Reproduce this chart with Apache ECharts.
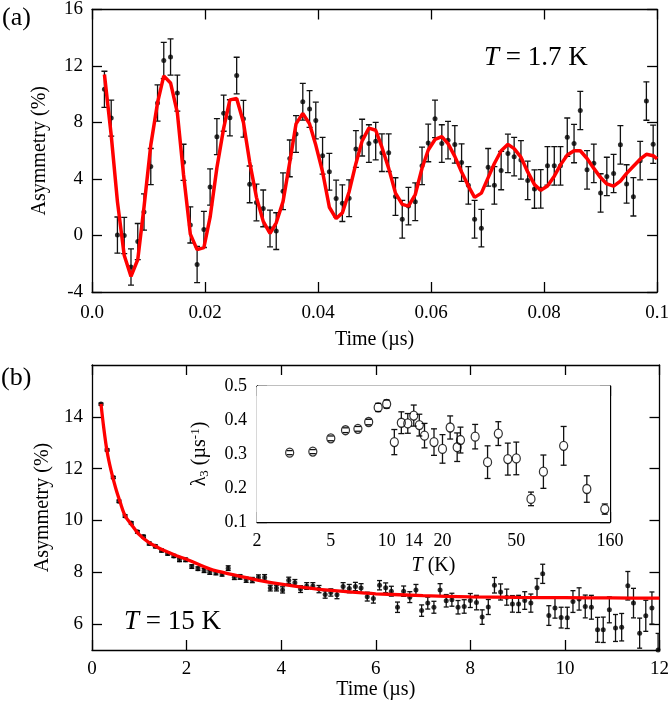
<!DOCTYPE html>
<html>
<head>
<meta charset="utf-8">
<script src="https://cdn.jsdelivr.net/npm/echarts@6/dist/echarts.min.js"></script>
<style>
  html, body { margin: 0; padding: 0; background: #fff; }
  #main { width: 672px; height: 704px; }
</style>
</head>
<body>
<div id="main"></div>
<script>
// (a) T = 1.7 K, early times
const timeA = [0.0022, 0.0034, 0.0045, 0.0057, 0.0069, 0.0081, 0.0092, 0.0104, 0.0116, 0.0127,
  0.0139, 0.0151, 0.0162, 0.0174, 0.0186, 0.0198, 0.0209, 0.0221, 0.0233, 0.0244,
  0.0256, 0.0268, 0.0279, 0.0291, 0.0303, 0.0315, 0.0326, 0.0338, 0.0350, 0.0361,
  0.0373, 0.0385, 0.0396, 0.0408, 0.0420, 0.0432, 0.0443, 0.0455, 0.0467, 0.0478,
  0.0490, 0.0502, 0.0513, 0.0525, 0.0537, 0.0549, 0.0560, 0.0572, 0.0584, 0.0595,
  0.0607, 0.0619, 0.0630, 0.0642, 0.0654, 0.0666, 0.0677, 0.0689, 0.0701, 0.0712,
  0.0724, 0.0736, 0.0747, 0.0759, 0.0771, 0.0783, 0.0794, 0.0806, 0.0818, 0.0829,
  0.0841, 0.0853, 0.0864, 0.0876, 0.0888, 0.0900, 0.0911, 0.0923, 0.0935, 0.0946,
  0.0958, 0.0970, 0.0981, 0.0993];
const asymA = [10.35, 8.31, 0.03, 0.0, -2.23, -0.43, 1.66, 4.88, 9.38, 12.39,
  12.64, 10.08, 5.18, 0.75, -2.06, 0.43, 3.43, 7.0, 8.66, 8.33,
  11.32, 8.26, 3.62, 2.34, 1.92, 0.5, 0.31, 3.13, 5.46, 7.18,
  9.47, 8.96, 8.14, 5.65, 4.51, 2.62, 2.29, 2.64, 6.13, 6.93,
  6.51, 6.68, 5.86, 5.86, 2.76, 1.15, 2.08, 2.39, 4.93, 6.55,
  8.26, 6.51, 6.75, 6.45, 5.16, 3.55, 1.15, 0.52, 4.83, 3.55,
  4.6, 5.81, 5.58, 5.35, 3.9, 3.29, 3.3, 4.93, 4.93, 4.93,
  6.96, 6.51, 8.85, 4.65, 5.11, 3.01, 4.18, 4.39, 6.42, 3.65,
  2.74, 5.3, 9.52, 6.46];
const errA = [1.28, 1.28, 1.28, 1.28, 1.28, 1.28, 1.28, 1.28, 1.28, 1.28,
  1.28, 1.28, 1.28, 1.28, 1.28, 1.28, 1.28, 1.28, 1.28, 1.28,
  1.3, 1.3, 1.3, 1.3, 1.3, 1.3, 1.3, 1.3, 1.3, 1.3,
  1.3, 1.3, 1.3, 1.3, 1.3, 1.3, 1.3, 1.3, 1.3, 1.3,
  1.33, 1.33, 1.33, 1.33, 1.33, 1.33, 1.33, 1.33, 1.33, 1.33,
  1.33, 1.33, 1.33, 1.33, 1.33, 1.33, 1.33, 1.33, 1.33, 1.33,
  1.36, 1.36, 1.36, 1.36, 1.36, 1.36, 1.36, 1.36, 1.36, 1.36,
  1.36, 1.36, 1.36, 1.36, 1.36, 1.36, 1.36, 1.36, 1.36, 1.36,
  1.36, 1.36, 1.36, 1.36];
const fitTimeA = timeA.concat([0.1]);
const fitA = [11.4, 7.1, 2.4, -1.4, -2.9, -1.7, 2.0, 6.4, 9.4, 11.3,
  10.8, 8.7, 4.3, 0.1, -1.0, -0.85, 1.3, 4.8, 7.6, 9.6,
  9.7, 8.0, 5.2, 2.7, 1.0, 0.15, 0.9, 2.4, 5.2, 7.9,
  8.65, 7.9, 6.4, 4.5, 2.0, 1.2, 1.6, 3.1, 5.1, 6.7,
  7.6, 7.45, 6.25, 4.75, 3.0, 2.2, 2.08, 2.9, 4.76, 6.05,
  6.8, 7.0, 6.5, 5.6, 4.5, 3.5, 2.7, 3.0, 4.1, 5.1,
  6.0, 6.45, 6.15, 5.55, 4.5, 3.6, 3.2, 3.5, 4.2, 5.0,
  5.7, 6.0, 6.0, 5.45, 4.75, 4.1, 3.65, 3.5, 3.85, 4.4,
  4.9, 5.4, 5.75, 5.65, 5.42];
const xLabelsA = ['0.0', '0.02', '0.04', '0.06', '0.08', '0.1'];

// (b) T = 15 K, long times
const timeB = [0.19, 0.32, 0.45, 0.57, 0.70, 0.83, 0.96, 1.09, 1.21, 1.34,
  1.47, 1.60, 1.73, 1.85, 1.98, 2.11, 2.24, 2.37, 2.49, 2.62,
  2.75, 2.88, 3.01, 3.13, 3.26, 3.39, 3.52, 3.65, 3.77, 3.90,
  4.03, 4.16, 4.29, 4.41, 4.54, 4.67, 4.80, 4.93, 5.05, 5.18,
  5.31, 5.44, 5.57, 5.69, 5.82, 5.95, 6.08, 6.21, 6.33, 6.46,
  6.59, 6.72, 6.85, 6.97, 7.10, 7.23, 7.36, 7.49, 7.61, 7.74,
  7.87, 8.00, 8.13, 8.25, 8.38, 8.51, 8.64, 8.77, 8.89, 9.02,
  9.15, 9.28, 9.41, 9.53, 9.66, 9.79, 9.92, 10.05, 10.17, 10.30,
  10.43, 10.56, 10.69, 10.81, 10.94, 11.07, 11.20, 11.33, 11.45, 11.58,
  11.71, 11.84, 11.97];
const asymB = [14.49, 12.72, 11.66, 10.74, 10.17, 9.9, 9.56, 9.38, 9.11, 9.0,
  8.84, 8.72, 8.63, 8.48, 8.48, 8.22, 8.14, 8.07, 8.0, 7.98,
  7.93, 8.16, 7.81, 7.82, 7.71, 7.7, 7.8, 7.8, 7.39, 7.39,
  7.32, 7.69, 7.6, 7.35, 7.47, 7.47, 7.35, 7.14, 7.22, 7.13,
  7.45, 7.37, 7.45, 7.39, 7.06, 6.99, 7.5, 7.4, 7.27, 6.65,
  7.27, 7.04, 7.32, 6.52, 6.81, 6.65, 7.32, 6.9, 6.94, 6.65,
  6.68, 6.91, 6.83, 6.27, 6.66, 7.5, 7.24, 7.04, 6.78, 6.78,
  6.91, 6.81, 7.4, 7.94, 6.33, 6.62, 6.25, 6.24, 6.87, 6.97,
  6.68, 6.65, 5.78, 5.78, 6.55, 5.85, 5.88, 7.48, 6.81, 5.65,
  6.32, 6.62, 5.0];
const errB = [0.04, 0.04, 0.04, 0.05, 0.05, 0.05, 0.05, 0.05, 0.06, 0.06,
  0.06, 0.06, 0.06, 0.07, 0.07, 0.07, 0.07, 0.08, 0.08, 0.08,
  0.08, 0.09, 0.09, 0.09, 0.1, 0.1, 0.1, 0.11, 0.11, 0.11,
  0.12, 0.12, 0.12, 0.13, 0.13, 0.13, 0.14, 0.14, 0.14, 0.15,
  0.15, 0.16, 0.16, 0.17, 0.17, 0.18, 0.18, 0.19, 0.19, 0.2,
  0.2, 0.21, 0.21, 0.22, 0.23, 0.23, 0.24, 0.24, 0.25, 0.26,
  0.26, 0.27, 0.28, 0.28, 0.29, 0.3, 0.31, 0.31, 0.32, 0.33,
  0.34, 0.35, 0.36, 0.37, 0.38, 0.39, 0.4, 0.41, 0.42, 0.43,
  0.44, 0.46, 0.48, 0.49, 0.5, 0.52, 0.53, 0.55, 0.57, 0.58,
  0.6, 0.62, 0.64];
const fitTimeB = [0.19, 0.25, 0.32, 0.4, 0.5, 0.6, 0.7, 0.85, 1.0, 1.2,
  1.4, 1.6, 1.8, 2.0, 2.5, 3.0, 3.5, 4.0, 4.5, 5.0,
  5.5, 6.0, 7.0, 8.0, 9.0, 10.0, 11.0, 12.0];
const fitB = [14.5, 13.55, 12.65, 11.95, 11.25, 10.68, 10.18, 9.8, 9.45, 9.15,
  8.95, 8.78, 8.63, 8.5, 8.12, 7.9, 7.7, 7.54, 7.41, 7.31,
  7.23, 7.17, 7.1, 7.05, 7.03, 7.02, 7.01, 7.0];
const yTicksB = [6, 8, 10, 12, 14];

// inset: lambda_3 vs T
const tempI = [3, 4, 5, 6, 7, 8, 9, 10, 11, 12, 13, 14, 15, 16, 18, 20, 22, 24, 25,
  30, 35, 40, 45, 50, 60, 70, 90, 120, 150];
const lamI = [0.304, 0.307, 0.346, 0.370, 0.374, 0.394, 0.437, 0.447, 0.335, 0.392,
  0.390, 0.413, 0.385, 0.354, 0.335, 0.315, 0.378, 0.320, 0.341, 0.351,
  0.276, 0.360, 0.285, 0.287, 0.168, 0.248, 0.324, 0.197, 0.138];
const errI = [0.006, 0.006, 0.007, 0.007, 0.007, 0.008, 0.012, 0.012, 0.037, 0.032,
  0.029, 0.031, 0.032, 0.036, 0.039, 0.042, 0.034, 0.042, 0.038, 0.036,
  0.048, 0.035, 0.047, 0.048, 0.02, 0.049, 0.057, 0.039, 0.015];
const xTicksI = [2, 5, 10, 14, 20, 50, 160];

const serif = '"Liberation Serif", "Times New Roman", serif';
const ink = '#000';
const red = '#ff0000';

const chart = echarts.init(document.getElementById('main'), null, { renderer: 'canvas' });

// vertical bar with caps; gap leaves the inside of an open marker empty
function errorBars(capHalf, gap) {
  return function (params, api) {
    const mid = api.coord([api.value(0), api.value(3)]);
    const hi = api.coord([api.value(0), api.value(2)]);
    const lo = api.coord([api.value(0), api.value(1)]);
    const style = { stroke: '#111', lineWidth: 1.3, fill: null };
    const kids = [
      { type: 'line', shape: { x1: hi[0] - capHalf, y1: hi[1], x2: hi[0] + capHalf, y2: hi[1] }, style: style },
      { type: 'line', shape: { x1: lo[0] - capHalf, y1: lo[1], x2: lo[0] + capHalf, y2: lo[1] }, style: style }
    ];
    if (!gap) {
      kids.push({ type: 'line', shape: { x1: hi[0], y1: hi[1], x2: lo[0], y2: lo[1] }, style: style });
    } else {
      if (mid[1] - gap > hi[1]) kids.push({ type: 'line', shape: { x1: hi[0], y1: hi[1], x2: hi[0], y2: mid[1] - gap }, style: style });
      if (mid[1] + gap < lo[1]) kids.push({ type: 'line', shape: { x1: lo[0], y1: mid[1] + gap, x2: lo[0], y2: lo[1] }, style: style });
    }
    return { type: 'group', children: kids };
  };
}

const axisLine = { show: true, onZero: false, lineStyle: { color: ink, width: 1.3 } };
const tickIn = { show: true, inside: true, length: 10, lineStyle: { color: ink, width: 1.3 } };
const noSplit = { show: false };
const nameStyle = { fontFamily: serif, fontSize: 20, color: ink };
function labelStyle(size, margin) {
  return { fontFamily: serif, fontSize: size, color: ink, margin: margin };
}

const option = {
  animation: false,
  backgroundColor: '#fff',
  textStyle: { fontFamily: serif },
  grid: [
    { left: 92, top: 6, width: 570, height: 286 },
    { left: 92, top: 365, width: 569, height: 285 },
    { left: 257, top: 386, width: 353, height: 136, show: true, backgroundColor: '#fff', borderWidth: 0, z: 3 }
  ],
  xAxis: [
    { gridIndex: 0, type: 'value', min: 0, max: 0.1, interval: 0.02, axisLine, axisTick: tickIn, splitLine: noSplit,
      axisLabel: Object.assign(labelStyle(19, 12), { formatter: (v, i) => xLabelsA[i] }),
      name: 'Time (µs)', nameLocation: 'middle', nameGap: 38, nameTextStyle: nameStyle },
    { gridIndex: 0, type: 'value', position: 'top', min: 0, max: 0.1, interval: 0.02, axisLine, axisTick: tickIn,
      splitLine: noSplit, axisLabel: { show: false } },
    { gridIndex: 1, type: 'value', min: 0, max: 12, interval: 2, axisLine, axisTick: tickIn, splitLine: noSplit,
      axisLabel: labelStyle(19, 10),
      name: 'Time (µs)', nameLocation: 'middle', nameGap: 27, nameTextStyle: nameStyle },
    { gridIndex: 1, type: 'value', position: 'top', min: 0, max: 12, interval: 2, axisLine, axisTick: tickIn,
      splitLine: noSplit, axisLabel: { show: false } },
    { gridIndex: 2, type: 'log', min: 2, max: 160, axisLine, splitLine: noSplit,
      axisTick: Object.assign({ customValues: xTicksI }, tickIn),
      axisLabel: Object.assign(labelStyle(18, 10), { customValues: xTicksI, formatter: v => String(Math.round(v)) }),
      name: '{i|T} (K)', nameLocation: 'middle', nameGap: 34,
      nameTextStyle: Object.assign({ rich: { i: { fontFamily: serif, fontSize: 20, fontStyle: 'italic', color: ink } } }, nameStyle) },
    { gridIndex: 2, type: 'log', position: 'top', min: 2, max: 160, axisLine, splitLine: noSplit,
      axisTick: Object.assign({ customValues: xTicksI }, tickIn), axisLabel: { show: false } }
  ],
  yAxis: [
    { gridIndex: 0, type: 'value', min: -4, max: 16, interval: 4, axisLine, axisTick: tickIn, splitLine: noSplit,
      axisLabel: labelStyle(19, 9),
      name: 'Asymmetry (%)', nameLocation: 'middle', nameGap: 42, nameRotate: 90, nameTextStyle: nameStyle },
    { gridIndex: 0, type: 'value', position: 'right', min: -4, max: 16, interval: 4, axisLine, axisTick: tickIn,
      splitLine: noSplit, axisLabel: { show: false } },
    { gridIndex: 1, type: 'value', min: 5, max: 16, axisLine, splitLine: noSplit,
      axisTick: Object.assign({ customValues: yTicksB }, tickIn),
      axisLabel: Object.assign(labelStyle(19, 9), { customValues: yTicksB }),
      name: 'Asymmetry (%)', nameLocation: 'middle', nameGap: 39, nameRotate: 90, nameTextStyle: nameStyle },
    { gridIndex: 1, type: 'value', position: 'right', min: 5, max: 16, axisLine, splitLine: noSplit,
      axisTick: Object.assign({ customValues: yTicksB }, tickIn), axisLabel: { show: false } },
    { gridIndex: 2, type: 'value', min: 0.1, max: 0.5, interval: 0.1, axisLine, axisTick: tickIn, splitLine: noSplit,
      axisLabel: labelStyle(18, 10),
      name: '{g|λ}{s|3} (µs{p|-1})', nameLocation: 'middle', nameGap: 46, nameRotate: 90,
      nameTextStyle: Object.assign({
        rich: {
          g: { fontFamily: serif, fontSize: 20, color: ink, lineHeight: 22 },
          s: { fontFamily: serif, fontSize: 13, color: ink, lineHeight: 13, verticalAlign: 'bottom' },
          p: { fontFamily: serif, fontSize: 13, color: ink, lineHeight: 13, verticalAlign: 'top' }
        }
      }, nameStyle, { lineHeight: 22 }) },
    { gridIndex: 2, type: 'value', position: 'right', min: 0.1, max: 0.5, interval: 0.1, axisLine, axisTick: tickIn,
      splitLine: noSplit, axisLabel: { show: false } }
  ],
  series: [
    { type: 'custom', xAxisIndex: 0, yAxisIndex: 0, clip: true, renderItem: errorBars(3, 0),
      data: timeA.map((t, i) => [t, asymA[i] - errA[i], asymA[i] + errA[i], asymA[i]]), z: 2 },
    { type: 'scatter', xAxisIndex: 0, yAxisIndex: 0, symbolSize: 5, itemStyle: { color: ink },
      data: timeA.map((t, i) => [t, asymA[i]]), z: 3 },
    { type: 'line', xAxisIndex: 0, yAxisIndex: 0, showSymbol: false, symbol: 'none',
      lineStyle: { color: red, width: 3.5 }, data: fitTimeA.map((t, i) => [t, fitA[i]]), z: 4 },

    { type: 'custom', xAxisIndex: 2, yAxisIndex: 2, clip: true, renderItem: errorBars(2.5, 0),
      data: timeB.map((t, i) => [t, asymB[i] - errB[i], asymB[i] + errB[i], asymB[i]]), z: 2 },
    { type: 'scatter', xAxisIndex: 2, yAxisIndex: 2, symbolSize: 5, itemStyle: { color: ink },
      data: timeB.map((t, i) => [t, asymB[i]]), z: 3 },
    { type: 'line', xAxisIndex: 2, yAxisIndex: 2, showSymbol: false, symbol: 'none', smooth: 0.3,
      lineStyle: { color: red, width: 3.3 }, data: fitTimeB.map((t, i) => [t, fitB[i]]), z: 4 },

    { type: 'custom', xAxisIndex: 4, yAxisIndex: 4, clip: true, renderItem: errorBars(3, 4.5),
      data: tempI.map((t, i) => [t, lamI[i] - errI[i], lamI[i] + errI[i], lamI[i]]), z: 5 },
    { type: 'scatter', xAxisIndex: 4, yAxisIndex: 4, symbol: 'circle', symbolSize: [8, 9],
      itemStyle: { color: 'rgba(255,255,255,0)', borderColor: ink, borderWidth: 1.3 },
      data: tempI.map((t, i) => [t, lamI[i]]), z: 6 }
  ],
  graphic: [
    { type: 'text', x: 2, y: 18, style: { text: '(a)', fontFamily: serif, fontSize: 26, fill: ink, verticalAlign: 'middle' } },
    { type: 'text', x: 1, y: 378, style: { text: '(b)', fontFamily: serif, fontSize: 26, fill: ink, verticalAlign: 'middle' } },
    { type: 'text', x: 484, y: 58, style: {
        text: '{i|T} = 1.7 K', fontFamily: serif, fontSize: 27, fill: ink, verticalAlign: 'middle',
        rich: { i: { fontFamily: serif, fontSize: 27, fontStyle: 'italic', fill: ink } } } },
    { type: 'text', x: 124, y: 622, style: {
        text: '{i|T} = 15 K', fontFamily: serif, fontSize: 27, fill: ink, verticalAlign: 'middle',
        rich: { i: { fontFamily: serif, fontSize: 27, fontStyle: 'italic', fill: ink } } } }
  ]
};

chart.setOption(option);
</script>
</body>
</html>
